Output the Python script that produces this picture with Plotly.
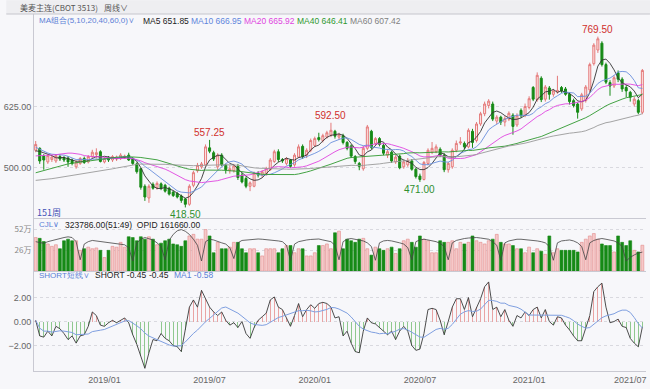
import pandas as pd
import numpy as np
import plotly.graph_objects as go

# ---------------- data ----------------
dates = pd.date_range("2018-09-07", periods=151, freq="W-FRI")

opens = [536, 540, 524, 512, 517, 514, 523, 521, 520, 516,
         502, 509, 519, 512, 523, 527, 533, 512, 521, 516,
         518, 519, 521, 526, 519, 508, 498, 462, 438, 466,
         459, 467, 464, 458, 450, 447, 442, 436, 425, 464,
         494, 502, 506, 541, 531, 502, 526, 505, 494, 494,
         503, 485, 478, 462, 462, 489, 485, 486, 496, 513,
         533, 517, 509, 516, 506, 522, 544, 526, 536, 546,
         562, 556, 563, 567, 575, 563, 566, 552, 545, 523,
         509, 498, 540, 575, 550, 560, 546, 526, 532, 512,
         524, 502, 506, 514, 497, 483, 476, 509, 532, 533,
         538, 526, 496, 502, 536, 551, 550, 543, 575, 556,
         590, 611, 628, 631, 596, 604, 594, 600, 608, 588,
         618, 607, 624, 665, 640, 684, 641, 664, 651, 656,
         665, 662, 651, 638, 631, 621, 638, 660, 714, 742,
         756, 712, 675, 668, 695, 682, 665, 655, 631, 638,
         614]
highs = [555, 542, 528, 528, 526, 528, 527, 524, 524, 519,
         515, 522, 523, 526, 537, 540, 536, 522, 524, 526,
         525, 530, 527, 531, 522, 511, 500, 466, 466, 470,
         472, 470, 467, 461, 453, 450, 445, 438, 466, 494,
         510, 512, 548, 557.25, 535, 530, 530, 508, 505, 508,
         508, 490, 482, 472, 492, 493, 495, 502, 520, 537,
         538, 520, 522, 518, 530, 548, 548, 540, 560, 564,
         572, 570, 576, 592.5, 578, 572, 570, 555, 548, 526,
         512, 545, 588, 578, 563, 563, 550, 537, 535, 526,
         527, 516, 520, 518, 500, 488, 514, 540, 553, 548,
         542, 530, 512, 540, 556, 563, 554, 581, 580, 594,
         615, 636, 641, 636, 608, 607, 606, 616, 612, 612,
         622, 632, 647, 668, 696, 688, 670, 668, 662, 689,
         668, 666, 655, 642, 634, 654, 670, 716, 756, 769.5,
         760, 716, 680, 690, 700, 686, 670, 658, 646, 642,
         703]
lows = [532, 508, 496, 508, 512, 510, 514, 512, 502, 505,
        498, 506, 508, 509, 520, 519, 511, 509, 512, 512,
        514, 516, 518, 514, 506, 488, 455, 432, 428, 455,
        455, 454, 449, 443, 440, 437, 428, 418.5, 422, 460,
        490, 498, 503, 530, 514, 496, 503, 488, 488, 490,
        475, 468, 458, 452, 460, 480, 480, 484, 494, 510,
        512, 510, 505, 500, 502, 520, 518, 520, 532, 543,
        554, 552, 560, 563, 560, 558, 548, 536, 520, 508,
        495, 494, 536, 538, 545, 544, 526, 520, 510, 508,
        497, 498, 502, 494, 478, 471, 474, 505, 528, 530,
        522, 491, 490, 498, 532, 547, 538, 540, 541, 552,
        586, 606, 622, 596, 590, 588, 585, 596, 568, 584,
        603, 604, 620, 637, 636, 635, 636, 640, 646, 652,
        654, 648, 630, 624, 601, 617, 634, 655, 710, 736,
        708, 672, 648, 664, 676, 656, 645, 636, 626, 610,
        610]
closes = [548, 514, 516, 525, 522, 525, 518, 516, 512, 509,
          512, 519, 511, 523, 532, 531, 513, 519, 516, 523,
          522, 526, 524, 516, 509, 492, 460, 440, 462, 458,
          468, 458, 452, 446, 443, 440, 433, 425, 462, 490,
          505, 508, 543, 534, 518, 526, 506, 496, 498, 504,
          480, 471, 462, 469, 489, 485, 492, 499, 516, 533,
          517, 514, 519, 503, 526, 543, 523, 536, 556, 560,
          558, 566, 572, 577, 565, 568, 552, 540, 524, 513,
          503, 540, 584, 542, 560, 548, 530, 533, 514, 522,
          500, 512, 515, 497, 482, 476, 511, 536, 540, 543,
          526, 496, 509, 536, 550, 553, 543, 577, 552, 590,
          611, 631, 637, 600, 604, 594, 601, 612, 585, 607,
          607, 626, 642, 641, 690, 640, 666, 651, 658, 659,
          658, 651, 636, 628, 614, 650, 666, 712, 752, 765,
          712, 676, 668, 685, 682, 662, 658, 645, 641, 614,
          700]

# closes of the weeks before the window, estimated so the long moving
# averages start where the picture shows them at the left edge
pre_closes = [478, 470, 462, 455, 448, 440, 436, 432, 440, 446, 450, 447,
              442, 436, 432, 428, 430, 432, 428, 424, 420, 422, 426,
              428, 424, 420, 432, 448, 456, 464, 478, 490, 482, 472, 452,
              468, 470, 476, 482, 492, 508, 500, 520, 522, 502, 494, 490,
              498, 510, 522, 556, 562, 556, 546, 528, 520, 530, 536, 540]

volume_wan = [42, 41, 37, 34, 31, 33, 28, 38, 40, 38,
              38, 26, 28, 30, 28, 29, 26, 17, 26, 31,
              30, 36, 30, 43, 42, 38, 43, 40, 43, 40,
              33, 35, 38, 40, 34, 33, 31, 38, 44, 46,
              40, 40, 52, 44, 23, 36, 28, 28, 30, 36,
              36, 28, 23, 28, 28, 23, 19, 28, 28, 28,
              23, 28, 32, 32, 23, 28, 28, 19, 19, 23,
              32, 32, 34, 28, 48, 50, 28, 40, 38, 36,
              40, 41, 28, 20, 30, 28, 26, 28, 30, 22,
              28, 38, 40, 36, 30, 44, 40, 38, 23, 23,
              38, 36, 36, 38, 28, 36, 34, 36, 44, 38,
              36, 34, 38, 40, 46, 36, 34, 34, 32, 28,
              28, 23, 30, 23, 28, 25, 21, 44, 23, 28,
              26, 26, 26, 26, 24, 36, 40, 44, 47, 40,
              34, 32, 32, 24, 44, 36, 32, 38, 26, 24,
              32.3786]

opid_k = [205, 200, 198, 205, 210, 215, 218, 222, 225, 222,
          205, 130, 195, 205, 210, 208, 205, 203, 200, 198,
          196, 195, 192, 180, 125, 200, 215, 222, 218, 212,
          200, 185, 130, 210, 235, 250, 255, 248, 235, 215,
          190, 125, 205, 215, 212, 205, 200, 195, 180, 135,
          200, 210, 212, 214, 215, 216, 215, 214, 212, 210,
          208, 205, 190, 128, 195, 205, 210, 212, 214, 215,
          216, 212, 210, 205, 190, 130, 205, 215, 218, 215,
          212, 208, 200, 185, 128, 200, 208, 210, 208, 205,
          200, 195, 180, 130, 205, 212, 215, 212, 210, 205,
          198, 185, 130, 200, 210, 215, 218, 220, 222, 222,
          220, 218, 215, 205, 190, 128, 200, 208, 212, 215,
          215, 214, 212, 210, 208, 205, 200, 185, 128, 200,
          208, 210, 212, 208, 200, 185, 130, 200, 210, 215,
          218, 215, 212, 208, 200, 185, 125, 140, 150, 158,
          161.66]

short_vals = [0.1, -1.2, -1.3, -0.8, -1.2, -0.4, -0.6, -1.0, -1.5, -1.2,
              -1.8, -1.2, -1.1, -0.4, 0.8, 0.5, -0.3, -0.4, -0.1, 0.1,
              -0.1, 0.1, 0.3, -0.1, -1.1, -1.9, -2.9, -3.9, -2.6, -1.5,
              -1.6, -1.0, -1.4, -1.6, -2.0, -2.1, -2.5, -0.7, 1.2, 1.8,
              1.2, 2.6, 1.9, 1.2, 0.8, 0.5, 0.8, 0.1, -0.3, -0.1,
              -0.5, 0.0, -1.0, -1.4, -0.5, 0.1, 0.4, 0.7, 1.8, 2.05,
              1.2, 1.0, 0.3, -0.4, 0.5, 1.5, 0.4, 1.0, 1.4, 1.1,
              1.5, 1.6, 1.5, 1.2, 0.3, 0.4, -1.2, -0.8, -1.8, -2.5,
              -2.6, -0.8, 0.3, -0.1, -0.2, -0.5, -0.8, -1.1, -0.8, -1.5,
              -0.8, -0.4, -0.8, -2.0, -2.4, -2.3, -1.0, 1.0, 1.1, 1.0,
              0.1, -1.1, 0.0, 1.2, 1.9, 1.9, 1.0, 2.0, 0.4, 1.2,
              1.9, 2.9, 3.3, 1.0, 1.2, 0.4, 1.0, 0.1, -0.4, 0.5,
              0.3, 0.8, 0.5, 1.0, 1.2, 0.3, 1.0, 0.0, -0.3, 0.4,
              0.3, -0.3, -0.7, -1.2, -1.6, -1.6, -0.5, 0.5, 2.5, 2.9,
              3.2, 1.2, -0.1, 0.0, 0.2, -0.4, -0.5, -1.4, -1.8, -2.1,
              -0.45]

tick_dates = ["2019-01-04", "2019-07-05", "2020-01-03", "2020-07-03", "2021-01-08", "2021-07-02"]
tick_labels = ["2019/01", "2019/07", "2020/01", "2020/07", "2021/01", "2021/07"]

ma_periods = [5, 10, 20, 40, 60]
ma_colors = ["#333333", "#6a8fdc", "#e045e0", "#2f982f", "#9a9a9a"]
ma_legend = ["MA5 651.85", "MA10 666.95", "MA20 665.92", "MA40 646.41", "MA60 607.42"]
high_marks = [43, 73, 139]
low_marks = [37, 95]

header_text = "美麦主连(CBOT 3513)"
period_text = "周线∨"
ma_group_text = "MA组合(5,10,20,40,60,0)∨"
count_text = "151周"

# ---------------- derived ----------------
all_close = pd.Series(pre_closes + closes, dtype=float)
n_pre = len(pre_closes)
mas = {p: all_close.rolling(p, min_periods=1).mean().iloc[n_pre:].values for p in ma_periods}
short_ma = pd.Series(short_vals).rolling(10, min_periods=1).mean().values
up = [c >= o for o, c in zip(opens, closes)]
volume = [v * 10000 for v in volume_wan]
opid = [v * 1000 for v in opid_k]

UP_LINE = "#e47a7a"
UP_FILL = "#fde6e6"
DN = "#168a16"

fig = go.Figure()

fig.add_trace(go.Candlestick(
    x=dates, open=opens, high=highs, low=lows, close=closes,
    increasing=dict(line=dict(color=UP_LINE, width=1), fillcolor=UP_FILL),
    decreasing=dict(line=dict(color=DN, width=1), fillcolor=DN),
    whiskerwidth=0, xaxis="x", yaxis="y", showlegend=False, hoverinfo="skip"))

for p, col in zip(ma_periods, ma_colors):
    fig.add_trace(go.Scatter(x=dates, y=mas[p], mode="lines",
                             line=dict(color=col, width=0.9), xaxis="x", yaxis="y",
                             showlegend=False, hoverinfo="skip"))

DAY = 86400000
fig.add_trace(go.Bar(
    x=dates, y=volume, width=5 * DAY,
    marker=dict(color=["#f6c9c9" if u else DN for u in up],
                line=dict(color=["#e38a8a" if u else DN for u in up], width=0.6)),
    xaxis="x2", yaxis="y2", showlegend=False, hoverinfo="skip"))
fig.add_trace(go.Scatter(x=dates, y=opid, mode="lines", line=dict(color="#444444", width=0.8),
                         xaxis="x2", yaxis="y4", showlegend=False, hoverinfo="skip"))

fig.add_trace(go.Bar(
    x=dates, y=short_vals, width=1.6 * DAY,
    marker=dict(color=["#e9a4a4" if v >= 0 else "#8fc88f" for v in short_vals], line=dict(width=0)),
    xaxis="x3", yaxis="y3", showlegend=False, hoverinfo="skip"))
fig.add_trace(go.Scatter(x=dates, y=short_vals, mode="lines", line=dict(color="#3a3a3a", width=0.9),
                         xaxis="x3", yaxis="y3", showlegend=False, hoverinfo="skip"))
fig.add_trace(go.Scatter(x=dates, y=short_ma, mode="lines", line=dict(color="#7f9fe0", width=1),
                         xaxis="x3", yaxis="y3", showlegend=False, hoverinfo="skip"))

# ---------------- layout ----------------
W, H = 650, 389
ML, MR, MT, MB = 28, 4, 14, 14
PW, PH = W - ML - MR, H - MT - MB


def py(Y):
    return (H - MB - Y) / PH


def px(X):
    return (X - ML) / PW


xr = ["2018-09-04 02:00", "2021-07-29 07:00"]
AX_LINE = "#c9c9d2"
GRID = "#d9d9df"
ARIAL = "Liberation Sans, Arial, sans-serif"
TICKF = dict(family=ARIAL, size=9, color="#666666")

common_x = dict(range=xr, type="date", showgrid=False, zeroline=False, showline=True,
                linecolor=AX_LINE, linewidth=1, ticks="", fixedrange=True)

fig.update_layout(
    width=W, height=H, margin=dict(l=ML, r=MR, t=MT, b=MB),
    paper_bgcolor="#f7f7fa", plot_bgcolor="#f7f7fa",
    showlegend=False, bargap=0, hovermode=False,
    xaxis=dict(common_x, anchor="y", showticklabels=False, rangeslider=dict(visible=False)),
    xaxis2=dict(common_x, anchor="y2", showticklabels=False, matches="x"),
    xaxis3=dict(common_x, anchor="y3", matches="x", tickvals=tick_dates, ticktext=tick_labels,
                tickfont=TICKF),
    yaxis=dict(domain=[py(220), 1.0], range=[397.4, 816], tickvals=[500, 625], tickformat=".2f",
               showgrid=True, gridcolor=GRID, griddash="dot", zeroline=False,
               showline=True, linecolor=AX_LINE, ticks="", tickfont=TICKF),
    yaxis2=dict(domain=[py(274), py(221)], range=[0, 656000], tickvals=[260000, 520000],
                ticktext=["26万", "52万"], showgrid=True, gridcolor=GRID, griddash="dot",
                zeroline=False, showline=True, linecolor=AX_LINE, ticks="",
                tickfont=dict(family="Noto Sans CJK SC", size=8, color="#888888")),
    yaxis4=dict(overlaying="y2", range=[83000, 300000], visible=False),
    yaxis3=dict(domain=[0, py(274)], range=[-4.12, 4.2], tickvals=[-2, 0, 2], tickformat=".2f",
                showgrid=True, gridcolor=GRID, griddash="dot", zeroline=False,
                showline=True, linecolor=AX_LINE, ticks="", tickfont=TICKF),
)

# header band
fig.add_shape(type="rect", xref="paper", yref="paper", x0=px(0), x1=px(W), y0=py(14), y1=py(0),
              fillcolor="#eeeef1", line=dict(width=0), layer="below")
fig.add_shape(type="line", xref="paper", yref="paper", x0=px(0), x1=px(W), y0=py(14), y1=py(14),
              line=dict(color="#c6c6cc", width=1))

ann = []


def label(x, y, text, size=8.5, color="#222222", family=ARIAL):
    ann.append(dict(x=px(x), y=py(y), text=text, xref="paper", yref="paper",
                    xanchor="left", yanchor="middle", showarrow=False,
                    font=dict(family=family, size=size, color=color)))


label(12, 7, header_text, size=8, color="#555555", family="Noto Sans CJK SC")
label(97, 7, period_text, size=8, color="#555555", family="Noto Sans CJK SC")
label(31, 21, ma_group_text, size=8, color="#5b7fd6")
for xpos, txt, col in zip([136, 185, 238, 292, 345], ma_legend,
                          ["#222222", "#5f86dc", "#e045e0", "#2f982f", "#808080"]):
    label(xpos, 21, txt, color=col)
label(29, 215, count_text, size=9, color="#3f4fb5", family="Noto Sans CJK SC")
label(31, 227, "CJL∨", size=8, color="#5b7fd6")
label(57, 227, "323786.00(51:49)&nbsp;&nbsp;OPID 161660.00")
label(31, 278, "SHORT短线∨", size=8, color="#5b7fd6")
label(88, 278, "SHORT -0.45")
label(142, 278, "-0.45")
label(167, 278, "MA1 -0.58", color="#5b7fd6")

for i in high_marks:
    ann.append(dict(x=dates[i], y=highs[i], xref="x", yref="y", text=f"{highs[i]:.2f}",
                    showarrow=False, yanchor="bottom", yshift=0,
                    font=dict(family=ARIAL, size=10, color="#d0302c")))
for i in low_marks:
    ann.append(dict(x=dates[i], y=lows[i], xref="x", yref="y", text=f"{lows[i]:.2f}",
                    showarrow=False, yanchor="top", yshift=0,
                    font=dict(family=ARIAL, size=10, color="#2f8f2f")))

fig.update_layout(annotations=ann)
fig.write_html("out.html", post_script="document.body.style.margin='0';",
               config={"displayModeBar": False, "staticPlot": True})
